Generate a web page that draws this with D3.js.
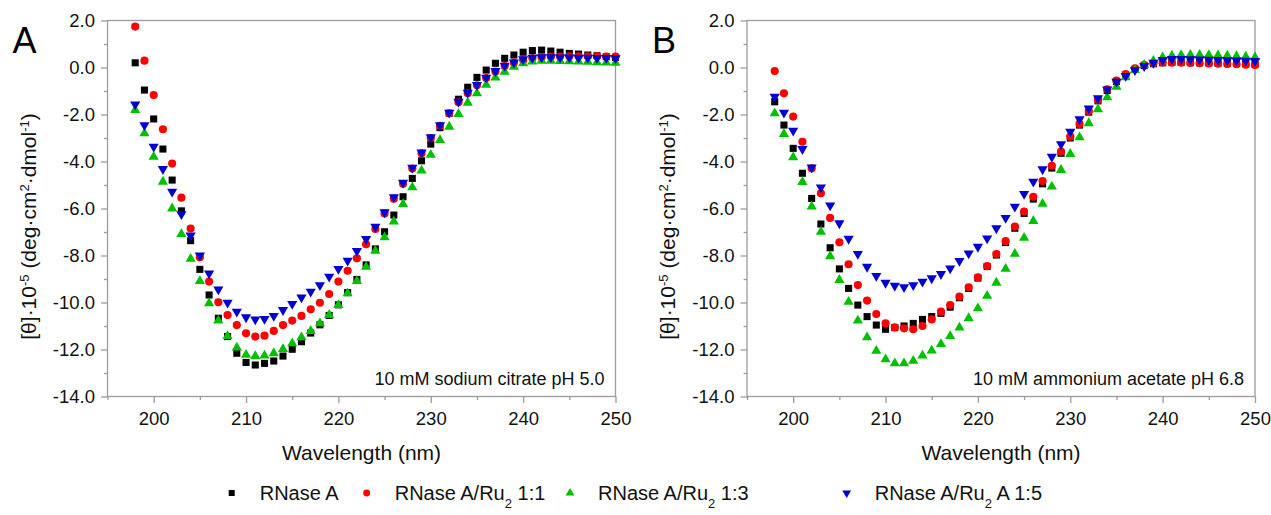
<!DOCTYPE html>
<html lang="en">
<head>
<meta charset="UTF-8">
<title>CD spectra</title>
<style>
    body {
        margin: 0;
        background: #fff;
    }
    text {
        font-family: Arial, "Liberation Sans", sans-serif;
    }
</style>
</head>
<body>
<svg width="1271" height="515"></svg>
<script src="https://cdnjs.cloudflare.com/ajax/libs/d3/7.8.5/d3.min.js"></script>
<script>
    // wavelengths 198..250 nm, one point per nm
    var wavelengths = d3.range(198, 251);

    var seriesColors = ['#000000', '#ff0000', '#00c000', '#0000d0'];
    var seriesLabels = [
        ['RNase A'],
        ['RNase A/Ru', '2', ' 1:1'],
        ['RNase A/Ru', '2', ' 1:3'],
        ['RNase A/Ru', '2', ' A 1:5']
    ];

    var xMajor = [200, 210, 220, 230, 240, 250];
    var xMinor = [195, 205, 215, 225, 235, 245];
    var yMajor = [-14, -12, -10, -8, -6, -4, -2, 0, 2];
    var yMinor = [-13, -11, -9, -7, -5, -3, -1, 1];

    // panel A: 10 mM sodium citrate pH 5.0
    var citrateRNase = [0.2, -0.96, -2.19, -3.47, -4.79, -6.1, -7.37, -8.59, -9.68, -10.67,
        -11.45, -12.16, -12.55, -12.66, -12.59, -12.49, -12.28, -11.99, -11.67, -11.3,
        -10.95, -10.55, -10.1, -9.58, -9.02, -8.4, -7.72, -6.99, -6.28, -5.5,
        -4.72, -3.97, -3.26, -2.56, -1.95, -1.35, -0.84, -0.42, -0.11, 0.18,
        0.39, 0.53, 0.65, 0.72, 0.74, 0.7, 0.65, 0.6, 0.57, 0.53,
        0.5, 0.46, 0.43];
    var citrateRu11 = [1.74, 0.29, -1.17, -2.63, -4.09, -5.54, -6.85, -8.07, -9.11, -9.99,
        -10.53, -10.96, -11.31, -11.45, -11.41, -11.21, -10.96, -10.77, -10.57, -10.29,
        -10.01, -9.64, -9.11, -8.65, -8.12, -7.52, -6.87, -6.21, -5.58, -4.95,
        -4.3, -3.65, -3.0, -2.48, -1.95, -1.48, -1.1, -0.76, -0.45, -0.17,
        0.06, 0.2, 0.32, 0.4, 0.44, 0.46, 0.47, 0.48, 0.48, 0.48,
        0.48, 0.47, 0.47];
    var citrateRu13 = [-1.81, -2.8, -3.8, -4.86, -6.0, -7.09, -8.14, -9.09, -10.03, -10.77,
        -11.43, -11.92, -12.23, -12.28, -12.26, -12.16, -11.98, -11.74, -11.48, -11.21,
        -10.89, -10.53, -10.11, -9.61, -9.09, -8.48, -7.8, -7.23, -6.56, -5.81,
        -5.1, -4.39, -3.72, -3.09, -2.52, -1.98, -1.5, -1.1, -0.74, -0.43,
        -0.18, 0.03, 0.18, 0.25, 0.29, 0.28, 0.27, 0.26, 0.25, 0.24,
        0.22, 0.21, 0.2];
    var citrateRu15 = [-1.57, -2.45, -3.37, -4.32, -5.28, -6.24, -7.15, -8.0, -8.76, -9.44,
        -10.01, -10.39, -10.63, -10.72, -10.7, -10.57, -10.32, -10.06, -9.78, -9.54,
        -9.26, -8.9, -8.57, -8.22, -7.81, -7.3, -6.77, -6.16, -5.52, -4.9,
        -4.26, -3.61, -2.97, -2.45, -1.92, -1.45, -1.07, -0.74, -0.43, -0.15,
        0.08, 0.22, 0.35, 0.42, 0.44, 0.44, 0.43, 0.43, 0.42, 0.42,
        0.41, 0.41, 0.4];

    // panel B: 10 mM ammonium acetate pH 6.8
    var acetateRNase = [-1.46, -2.45, -3.44, -4.5, -5.57, -6.66, -7.67, -8.57, -9.4, -10.11,
        -10.6, -10.96, -11.14, -11.07, -11.0, -10.89, -10.72, -10.6, -10.46, -10.2,
        -9.8, -9.4, -8.96, -8.47, -7.98, -7.45, -6.84, -6.21, -5.6, -4.95,
        -4.28, -3.65, -3.0, -2.45, -1.9, -1.42, -0.98, -0.6, -0.32, -0.08,
        0.08, 0.16, 0.2, 0.22, 0.22, 0.21, 0.2, 0.2, 0.19, 0.18,
        0.17, 0.16, 0.15];
    var acetateRu11 = [-0.15, -1.1, -2.09, -3.16, -4.29, -5.35, -6.4, -7.44, -8.37, -9.26,
        -9.92, -10.49, -10.89, -11.06, -11.1, -11.14, -11.0, -10.72, -10.39, -10.11,
        -9.75, -9.35, -8.93, -8.45, -7.94, -7.39, -6.77, -6.13, -5.5, -4.83,
        -4.18, -3.58, -2.94, -2.4, -1.85, -1.38, -0.93, -0.56, -0.28, -0.04,
        0.11, 0.18, 0.21, 0.2, 0.2, 0.19, 0.18, 0.17, 0.16, 0.15,
        0.14, 0.12, 0.11];
    var acetateRu13 = [-1.95, -2.83, -3.82, -4.87, -5.92, -6.99, -8.03, -9.04, -9.97, -10.77,
        -11.48, -12.06, -12.42, -12.59, -12.59, -12.48, -12.26, -12.05, -11.77, -11.43,
        -11.07, -10.67, -10.25, -9.72, -9.16, -8.57, -7.93, -7.25, -6.53, -5.8,
        -5.07, -4.36, -3.68, -2.97, -2.37, -1.78, -1.27, -0.82, -0.42, -0.11,
        0.11, 0.28, 0.43, 0.5, 0.53, 0.54, 0.54, 0.53, 0.52, 0.5,
        0.48, 0.46, 0.43];
    var acetateRu15 = [-1.24, -1.92, -2.69, -3.47, -4.25, -5.1, -5.87, -6.63, -7.29, -7.93,
        -8.48, -8.87, -9.16, -9.29, -9.35, -9.26, -9.11, -8.97, -8.79, -8.55,
        -8.23, -7.91, -7.63, -7.27, -6.84, -6.4, -5.92, -5.38, -4.86, -4.33,
        -3.8, -3.26, -2.73, -2.2, -1.74, -1.31, -0.93, -0.6, -0.36, -0.11,
        0.06, 0.2, 0.32, 0.36, 0.36, 0.35, 0.34, 0.33, 0.32, 0.31,
        0.3, 0.29, 0.28];

    var panels = [
        { letter: 'A', note: '10 mM sodium citrate pH 5.0', left: 107.5, right: 615.5,
          series: [citrateRNase, citrateRu11, citrateRu13, citrateRu15] },
        { letter: 'B', note: '10 mM ammonium acetate pH 6.8', left: 747, right: 1255,
          series: [acetateRNase, acetateRu11, acetateRu13, acetateRu15] }
    ];

    var svg = d3.select('svg');
    var top_ = 20.5, bottom = 396.5;
    var axisColor = '#9c9c9c';

    var symbols = [
        d3.symbol().type(d3.symbolSquare).size(50),
        d3.symbol().type(d3.symbolCircle).size(52),
        d3.symbol().type(d3.symbolTriangle).size(45),
        d3.symbol().type(d3.symbolTriangle).size(45)
    ];
    var legendSymbols = [
        d3.symbol().type(d3.symbolSquare).size(36),
        d3.symbol().type(d3.symbolCircle).size(38),
        d3.symbol().type(d3.symbolTriangle).size(34),
        d3.symbol().type(d3.symbolTriangle).size(34)
    ];

    function fmt(d) { return d.toFixed(1); }

    function styleAxis(sel) {
        sel.select('.domain').remove();
        sel.selectAll('line').attr('stroke', axisColor).attr('stroke-width', 1.3);
        sel.selectAll('text').attr('fill', '#111').attr('font-size', 18.5)
            .attr('font-family', 'Arial, "Liberation Sans", sans-serif');
    }

    panels.forEach(function (p) {
        var x = d3.scaleLinear().domain([195, 250]).range([p.left, p.right]);
        var y = d3.scaleLinear().domain([-14, 2]).range([bottom, top_]);
        var g = svg.append('g');

        g.append('g').attr('transform', `translate(0,${bottom})`)
            .call(d3.axisBottom(x).tickValues(xMinor).tickSize(3.5).tickFormat(''))
            .call(styleAxis);
        g.append('g').attr('transform', `translate(0,${bottom})`)
            .call(d3.axisBottom(x).tickValues(xMajor).tickSize(6.5).tickPadding(9).tickFormat(d3.format('d')))
            .call(styleAxis);
        g.append('g').attr('transform', `translate(${p.left},0)`)
            .call(d3.axisLeft(y).tickValues(yMinor).tickSize(3.5).tickFormat(''))
            .call(styleAxis);
        g.append('g').attr('transform', `translate(${p.left},0)`)
            .call(d3.axisLeft(y).tickValues(yMajor).tickSize(6.5).tickPadding(6).tickFormat(fmt))
            .call(styleAxis);

        g.append('rect')
            .attr('x', p.left).attr('y', top_)
            .attr('width', p.right - p.left).attr('height', bottom - top_)
            .attr('fill', 'none').attr('stroke', axisColor).attr('stroke-width', 1.3);

        p.series.forEach(function (vals, si) {
            g.append('g').selectAll('path')
                .data(vals)
                .enter()
                .append('path')
                .attr('d', symbols[si])
                .attr('transform', (d, i) => `translate(${x(wavelengths[i])},${y(d)})` + (si == 3 ? ' rotate(180)' : ''))
                .attr('fill', seriesColors[si]);
        });

        // panel letter
        g.append('text')
            .attr('x', p.left - 95).attr('y', 53)
            .attr('font-size', 36).attr('fill', '#000')
            .text(p.letter);

        // buffer note
        g.append('text')
            .attr('x', p.right - 11).attr('y', 385)
            .attr('text-anchor', 'end').attr('font-size', 18).attr('fill', '#111')
            .text(p.note);

        // x title
        g.append('text')
            .attr('x', (p.left + p.right) / 2).attr('y', 460)
            .attr('text-anchor', 'middle').attr('font-size', 21).attr('fill', '#111')
            .text('Wavelength (nm)');

        // y title
        var yt = g.append('text')
            .attr('transform', `translate(${p.left - 72},${(top_ + bottom) / 2 + 18}) rotate(-90)`)
            .attr('text-anchor', 'middle').attr('font-size', 21).attr('fill', '#111');
        yt.append('tspan').text('[θ]·10');
        yt.append('tspan').attr('font-size', 13).attr('baseline-shift', 'super').text('-5');
        yt.append('tspan').text(' (deg·cm');
        yt.append('tspan').attr('font-size', 13).attr('baseline-shift', 'super').text('2');
        yt.append('tspan').text('·dmol');
        yt.append('tspan').attr('font-size', 13).attr('baseline-shift', 'super').text('-1');
        yt.append('tspan').text(')');
    });

    // legend
    var legendX = [231.7, 366.7, 570, 846.7];
    var legendY = 493;
    var legend = svg.append('g');
    seriesLabels.forEach(function (parts, si) {
        legend.append('path')
            .attr('d', legendSymbols[si])
            .attr('transform', `translate(${legendX[si]},${legendY})` + (si == 3 ? ' rotate(180)' : ''))
            .attr('fill', seriesColors[si]);
        var t = legend.append('text')
            .attr('x', legendX[si] + 28).attr('y', legendY + 7)
            .attr('font-size', 20).attr('fill', '#111');
        t.append('tspan').text(parts[0]);
        if (parts.length > 1) {
            t.append('tspan').attr('font-size', 13).attr('baseline-shift', 'sub').text(parts[1]);
            t.append('tspan').text(parts[2]);
        }
    });
</script>
</body>
</html>
